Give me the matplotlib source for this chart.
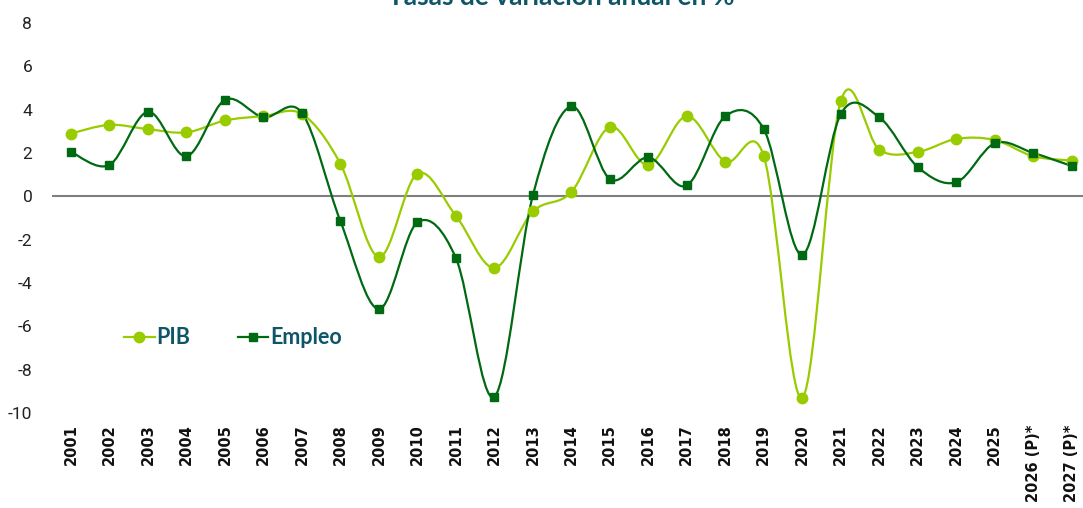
import numpy as np
import matplotlib
matplotlib.use("Agg")
import matplotlib.pyplot as plt
from matplotlib.path import Path
from matplotlib.patches import PathPatch
from matplotlib.lines import Line2D

years = ["2001", "2002", "2003", "2004", "2005", "2006", "2007", "2008", "2009",
         "2010", "2011", "2012", "2013", "2014", "2015", "2016", "2017", "2018",
         "2019", "2020", "2021", "2022", "2023", "2024", "2025", "2026 (P)*", "2027 (P)*"]
pib = [2.9, 3.3, 3.1, 2.95, 3.5, 3.7, 3.8, 1.5, -2.8, 1.05, -0.9, -3.3, -0.7,
       0.2, 3.2, 1.45, 3.7, 1.6, 1.85, -9.3, 4.4, 2.15, 2.05, 2.65, 2.6, 1.85, 1.65]
empleo = [2.05, 1.45, 3.9, 1.85, 4.45, 3.65, 3.85, -1.15, -5.2, -1.2, -2.85, -9.25, 0.05,
          4.15, 0.8, 1.8, 0.5, 3.7, 3.1, -2.7, 3.8, 3.65, 1.35, 0.65, 2.45, 2.0, 1.4]

C_PIB = "#99cc00"
C_EMP = "#006a12"
C_TXT = "#0d5567"

fig = plt.figure(figsize=(10.83, 5.08), dpi=100)
W, H = 1083, 508
x0, x1 = 51.75, 1091.0
ytop, ybot = 23.0, 413.0
ax = fig.add_axes([x0 / W, 1 - ybot / H, (x1 - x0) / W, (ybot - ytop) / H])
ax.set_xlim(-0.5, len(years) - 0.5)
ax.set_ylim(-10, 8)


def smooth_path(xs, ys):
    pts = np.column_stack([xs, ys]).astype(float)
    n = len(pts)
    verts = [pts[0]]
    codes = [Path.MOVETO]
    for i in range(n - 1):
        p0 = pts[i - 1] if i > 0 else pts[i]
        p1 = pts[i]
        p2 = pts[i + 1]
        p3 = pts[i + 2] if i + 2 < n else pts[i + 1]
        c1 = p1 + (p2 - p0) / 6.0
        c2 = p2 - (p3 - p1) / 6.0
        verts += [c1, c2, p2]
        codes += [Path.CURVE4] * 3
    return Path(verts, codes)


xs = np.arange(len(years))
for vals, col, mk, ms in [(pib, C_PIB, "o", 7.5), (empleo, C_EMP, "s", 5.8)]:
    patch = PathPatch(smooth_path(xs, vals), facecolor="none", edgecolor=col,
                      lw=1.6, zorder=3)
    ax.add_patch(patch)
    ax.plot(xs, vals, ls="none", marker=mk, color=col, markersize=ms, zorder=4)

ax.axhline(0, color="#7f7f7f", lw=1.5, zorder=2)

for s in ax.spines.values():
    s.set_visible(False)
ax.set_yticks(np.arange(-10, 9, 2))
ax.set_yticklabels([str(v) for v in range(-10, 9, 2)], fontsize=12.5,
                   color="#222222", family="Roboto")
ax.tick_params(axis="y", length=0, pad=14)
ax.set_xticks(xs)
ax.set_xticklabels(years, rotation=90, fontsize=10.5, fontweight="bold",
                   color="#111111", family="DejaVu Sans")
ax.tick_params(axis="x", length=0, pad=8)

handles = [Line2D([], [], color=C_PIB, marker="o", markersize=7.5, lw=1.6),
           Line2D([], [], color=C_EMP, marker="s", markersize=5.8, lw=1.6)]
leg = ax.legend(handles, ["PIB", "Empleo"], ncol=2, loc="center left",
                bbox_to_anchor=((105 - x0) / (x1 - x0), (ybot - 338) / (ybot - ytop)),
                frameon=False, handlelength=1.4, handletextpad=0.1, columnspacing=2.2,
                prop={"family": "Lato", "weight": "bold", "size": 15.5})
for t in leg.get_texts():
    t.set_color(C_TXT)

fig.text(561 / W, 1 - 5 / H, "Tasas de variación anual en %", ha="center", va="baseline",
         fontsize=19, fontweight="bold", color=C_TXT, family="Lato")

fig.savefig("out.png", dpi=100)
